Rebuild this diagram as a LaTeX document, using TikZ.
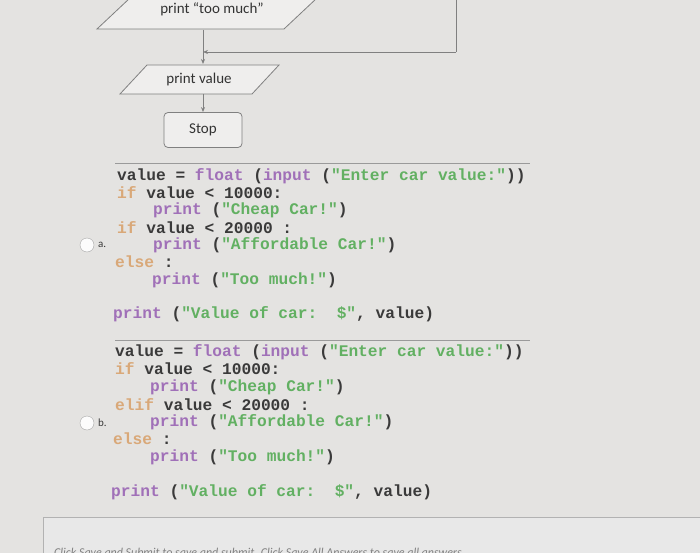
\documentclass[tikz,border=0pt]{standalone}
\usepackage{fontspec}
\setmainfont{Carlito}
\newfontfamily\cmono{Liberation Mono}
\usetikzlibrary{arrows.meta}
\definecolor{bgc}{HTML}{E4E3E1}
\definecolor{kw}{HTML}{D9A878}
\definecolor{fn}{HTML}{A070B8}
\definecolor{st}{HTML}{62B062}
\definecolor{tx}{HTML}{3A3A3A}
\definecolor{ln}{HTML}{808080}
\newcommand{\CK}[1]{\textcolor{kw}{#1}}
\newcommand{\CF}[1]{\textcolor{fn}{#1}}
\newcommand{\CS}[1]{\textcolor{st}{#1}}
\begin{document}
\begin{tikzpicture}[x=1pt,y=-1pt,
  code/.style={anchor=west,inner sep=0pt,font=\cmono\bfseries\fontsize{16.2}{18}\selectfont,text=tx},
  flow/.style={draw=ln,line width=0.8pt},
  lbl/.style={font=\fontsize{15}{17}\selectfont,text=black!80},
  arr/.style={draw=ln,line width=0.8pt,-{Stealth[length=5pt,width=4pt]}}]
\useasboundingbox (0,0) rectangle (700,553);
\fill[bgc] (0,0) rectangle (700,553);
\begin{scope}
\clip (0,0) rectangle (700,553);
% flowchart
\draw[flow,fill=bgc!60!white] (130,-2) -- (97,29) -- (284,29) -- (317,-2);
\node[lbl] (too) at (212,9) {print “too much”};
\coordinate (rtop) at (456,-2);
\coordinate (rc) at (456,52);
\coordinate (join) at (203,52);
\draw[flow] (rtop) -- (rc);
\draw[arr] (rc) -- (join);
\draw[flow,fill=bgc!60!white] (147,65) -- (279,65) -- (252,94) -- (120,94) -- cycle;
\node[lbl] (pv) at (199,80) {print value};
\coordinate (tooB) at (203,30);
\coordinate (pvT) at (203,64);
\draw[arr] (tooB) -- (pvT);
\node[draw=ln,line width=0.8pt,rounded corners=4pt,minimum width=78pt,minimum height=35pt,lbl,fill=bgc!60!white] (stop) at (203,130) {Stop};
\coordinate (pvB) at (203,94);
\draw[arr] (pvB) -- (stop.north);
% option a
\draw[ln!80,line width=1pt] (115,164) -- (530,164);
\node[code] (a1) at (117,176) {value = \CF{float} (\CF{input} (\CS{"Enter car value:"}))};
\node[code] (a2) at (117,193) {\CK{if} value < 10000:};
\node[code] (a3) at (153,210) {\CF{print} (\CS{"Cheap Car!"})};
\node[code] (a4) at (117,228) {\CK{if} value < 20000 :};
\node[code] (a5) at (153,245) {\CF{print} (\CS{"Affordable Car!"})};
\node[code] (a6) at (115,262) {\CK{else} :};
\node[code] (a7) at (152,280) {\CF{print} (\CS{"Too much!"})};
\node[code] (a8) at (113,314) {\CF{print} (\CS{"Value of car:~~\$"}, value)};
\node[draw=gray!70,fill=white!90!bgc,circle,minimum size=14pt,inner sep=0pt] (ra) at (87,245) {};
\node[font=\fontsize{11}{12}\selectfont,text=tx,anchor=west,inner sep=0pt] (la) at (98,245) {a.};
% option b
\draw[ln!80,line width=1pt] (115,340) -- (530,340);
\node[code] (b1) at (115,352) {value = \CF{float} (\CF{input} (\CS{"Enter car value:"}))};
\node[code] (b2) at (115,369) {\CK{if} value < 10000:};
\node[code] (b3) at (150,387) {\CF{print} (\CS{"Cheap Car!"})};
\node[code] (b4) at (115,405) {\CK{elif} value < 20000 :};
\node[code] (b5) at (150,422) {\CF{print} (\CS{"Affordable Car!"})};
\node[code] (b6) at (113,439) {\CK{else} :};
\node[code] (b7) at (150,457) {\CF{print} (\CS{"Too much!"})};
\node[code] (b8) at (111,492) {\CF{print} (\CS{"Value of car:~~\$"}, value)};
\node[draw=gray!70,fill=white!90!bgc,circle,minimum size=14pt,inner sep=0pt] (rb) at (87,423) {};
\node[font=\fontsize{11}{12}\selectfont,text=tx,anchor=west,inner sep=0pt] (lb) at (98,423) {b.};
% bottom panel
\draw[gray!60,fill=gray!18] (43,517) rectangle (720,570);
\node[anchor=base west,inner sep=0pt,font=\itshape\fontsize{12}{14}\selectfont,text=gray] (click) at (54,556) {Click Save and Submit to save and submit. Click Save All Answers to save all answers.};
\end{scope}
\end{tikzpicture}
\end{document}
